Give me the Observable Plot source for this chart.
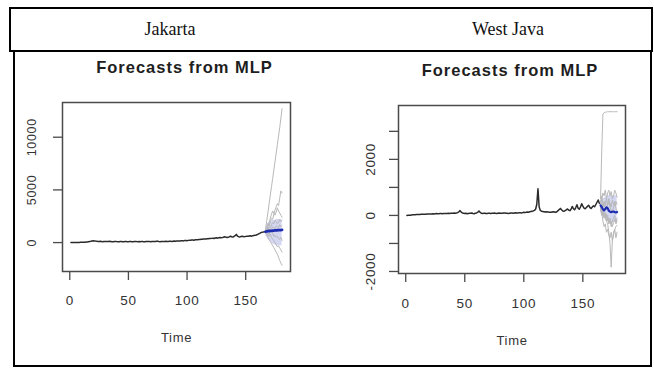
<!DOCTYPE html>
<html>
<head>
<meta charset="utf-8">
<script src="https://cdn.jsdelivr.net/npm/d3@7"></script>
<script src="https://cdn.jsdelivr.net/npm/@observablehq/plot@0.6"></script>
<style>
  body { margin: 0; background: #fff; }
  #page { position: relative; width: 654px; height: 368px; overflow: hidden; background: #fff; }
  .box { position: absolute; box-sizing: border-box; border: 2px solid #000; }
  .head { position: absolute; top: 19px; width: 220px; text-align: center;
          font-family: "Liberation Serif", "Times New Roman", serif; font-size: 18px; color: #111; }
  .chart { position: absolute; top: 53px; }
  .chart svg text { letter-spacing: 0.7px; }
  .chart svg g[font-weight="bold"] text { letter-spacing: 1px; }
</style>
</head>
<body>
<div id="page">
  <div class="box" style="left:9px;top:7px;width:644px;height:45px;"></div>
  <div class="box" style="left:13px;top:50px;width:639px;height:317px;"></div>
  <div class="head" style="left:60px;">Jakarta</div>
  <div class="head" style="left:398px;">West Java</div>
  <div class="chart" id="jakarta" style="left:14px;"></div>
  <div class="chart" id="westjava" style="left:330px;"></div>
</div>
<script>
// ---- Jakarta: observed daily series (t = 1..166) ----
const jakartaHistory = [
  0, 2, 3, 5, 8, 10, 12, 15, 20, 25,
  30, 40, 35, 50, 60, 80, 100, 120, 150, 170,
  160, 140, 130, 110, 100, 120, 110, 90, 100, 105,
  110, 95, 100, 120, 105, 90, 80, 100, 110, 95,
  90, 85, 100, 95, 80, 90, 110, 100, 85, 90,
  100, 95, 80, 90, 100, 110, 95, 85, 100, 90,
  95, 100, 90, 85, 105, 110, 100, 95, 90, 100,
  105, 110, 95, 120, 130, 100, 90, 110, 100, 95,
  110, 120, 100, 110, 130, 120, 110, 125, 140, 130,
  150, 140, 160, 150, 170, 180, 160, 190, 200, 180,
  210, 230, 220, 240, 250, 230, 260, 280, 270, 300,
  290, 320, 310, 330, 350, 340, 370, 360, 390, 380,
  400, 420, 390, 430, 450, 420, 460, 480, 450, 470,
  500, 560, 520, 480, 510, 540, 600, 550, 520, 580,
  650, 780, 620, 560, 540, 580, 600, 570, 560, 590,
  610, 600, 620, 640, 610, 650, 680, 700, 720, 760,
  820, 880, 940, 990, 1000, 1020
];
// MLP combined forecast, 15 steps ahead
const jakartaForecast = [1040, 1060, 1080, 1100, 1110, 1120, 1130, 1140, 1150, 1160, 1170, 1180, 1180, 1190, 1200];
// individual ensemble network forecasts
const jakartaEnsemble = [
  [1300, 2100, 2900, 3700, 4500, 5300, 6100, 6900, 7700, 8500, 9300, 10100, 10900, 11800, 12700],
  [1100, 1400, 1800, 1600, 2000, 2300, 2200, 2700, 3100, 3400, 3700, 3500, 4200, 4900, 4700],
  [900, 700, 500, 300, 100, -100, -300, -500, -700, -900, -1100, -1400, -1700, -1950, -2150],
  [1000, 1200, 1500, 1900, 2300, 2700, 3000, 2800, 2600, 2900, 3300, 3000, 2800, 2600, 2400],
  [1000, 900, 700, 600, 800, 500, 300, 200, 0, -200, -400, -300, -500, -700, -900],
  [1100, 1300, 1200, 1500, 1400, 1700, 1900, 1800, 2100, 2000, 1800, 1900, 2200, 2000, 2100],
  [1000, 1100, 900, 800, 1000, 1200, 900, 600, 700, 500, 600, 400, 300, 500, 200],
  [1100, 1200, 1400, 1300, 1100, 1300, 1500, 1400, 1300, 1600, 1500, 1400, 1700, 1500, 1600]
];
const jakartaBandLow  = [700, 500, 300, 200, 100, 0, -100, -200, -200, -300, -300, -300, -300, -300, -300];
const jakartaBandHigh = [1400, 1600, 1800, 1900, 2000, 2000, 2100, 2100, 2100, 2200, 2200, 2200, 2200, 2200, 2200];
const jakartaXTicks = [0, 50, 100, 150];
const jakartaYTicks = [0, 5000, 10000];
const jakartaYLabels = [0, 5000, 10000];

// ---- West Java: observed daily series (t = 1..164) ----
const westJavaHistory = [
  0, 5, 10, 10, 15, 20, 20, 25, 30, 30,
  30, 35, 40, 40, 45, 40, 45, 50, 50, 55,
  50, 55, 60, 55, 60, 65, 60, 60, 65, 70,
  60, 65, 70, 65, 70, 75, 70, 80, 75, 80,
  85, 80, 90, 100, 130, 170, 120, 90, 80, 70,
  80, 60, 70, 80, 75, 85, 70, 60, 80, 90,
  110, 160, 110, 80, 70, 75, 80, 70, 65, 75,
  80, 70, 75, 80, 85, 75, 70, 80, 85, 80,
  75, 80, 90, 85, 80, 75, 70, 80, 90, 85,
  80, 90, 95, 85, 90, 100, 95, 90, 100, 110,
  105, 110, 120, 115, 130, 140, 150, 160, 180, 220,
  400, 950, 300, 180, 150, 140, 130, 120, 130, 125,
  120, 115, 110, 120, 130, 120, 110, 130, 170, 210,
  250, 200, 160, 150, 170, 200, 230, 190, 170, 220,
  320, 240, 200, 280, 380, 260, 220, 300, 420, 330,
  260, 240, 280, 330, 360, 280, 250, 300, 340, 310,
  390, 470, 550, 430
];
const westJavaForecast = [360, 300, 220, 180, 230, 290, 260, 170, 130, 120, 130, 140, 120, 110, 120];
const westJavaEnsemble = [
  [600, 2300, 3620, 3660, 3680, 3690, 3700, 3700, 3700, 3700, 3700, 3700, 3700, 3700, 3700],
  [250, 150, 100, 0, -100, -200, -300, -600, -1000, -1850, -900, -600, -500, -400, -350],
  [400, 600, 800, 700, 900, 600, 800, 900, 700, 850, 600, 700, 900, 800, 650],
  [300, 100, -200, -400, -300, -600, -500, -700, -800, -600, -900, -700, -500, -800, -600],
  [350, 450, 300, 500, 400, 600, 350, 500, 450, 300, 550, 400, 350, 500, 400],
  [300, 200, 0, 100, -100, 50, -200, -100, -300, -200, -400, -250, -150, -300, -200],
  [500, 700, 400, 300, 500, 200, 400, 600, 300, 200, 100, 300, 500, 250, 150],
  [200, 0, 200, -100, 100, -200, 0, -300, -100, -400, -200, -100, 0, -250, -100]
];
const westJavaBandLow  = [150, 50, -50, -100, -100, -150, -150, -200, -200, -200, -250, -250, -250, -250, -250];
const westJavaBandHigh = [500, 550, 600, 600, 650, 650, 700, 700, 700, 700, 700, 700, 700, 700, 700];
const westJavaXTicks = [0, 50, 100, 150];
const westJavaYTicks = [-2000, -1000, 0, 1000, 2000, 3000];
const westJavaYLabels = [-2000, 0, 2000];

const titleText = "Forecasts from MLP";
const xTitle = "Time";

// R-style axis range: data extent widened by 4% on each side
function padded(values) {
  const [lo, hi] = d3.extent(values);
  const d = (hi - lo) * 0.04;
  return [lo - d, hi + d];
}

function forecastPlot(cfg) {
  const n = cfg.history.length;
  const hist = cfg.history.map((v, i) => ({t: i + 1, v}));
  const fc = cfg.forecast.map((v, i) => ({t: n + 1 + i, v}));
  const ens = cfg.ensemble.flatMap((s, k) => s.map((v, i) => ({t: n + 1 + i, v, k})));
  const band = cfg.bandLow.map((lo, i) => ({t: n + 1 + i, lo, hi: cfg.bandHigh[i]}));

  const allT = hist.map(d => d.t).concat(fc.map(d => d.t));
  const allV = hist.map(d => d.v).concat(fc.map(d => d.v), ens.map(d => d.v), band.map(d => d.lo), band.map(d => d.hi));

  const font = "'Liberation Sans', Arial, Helvetica, sans-serif";
  return Plot.plot({
    width: cfg.width,
    height: 312,
    marginLeft: cfg.ml, marginRight: cfg.mr, marginTop: cfg.mt, marginBottom: cfg.mb,
    x: {domain: padded(allT), axis: null, label: null},
    y: {domain: padded(allV), axis: null, label: null},
    style: {fontFamily: font, background: "transparent", overflow: "visible"},
    marks: [
      Plot.areaY(band, {x: "t", y1: "lo", y2: "hi", fill: "#c6c9ee", fillOpacity: 0.75}),
      Plot.lineY(ens, {x: "t", y: "v", z: "k", stroke: "#b8b8b8", strokeWidth: 1}),
      Plot.lineY(hist, {x: "t", y: "v", stroke: "#2a2a2a", strokeWidth: 1.5}),
      Plot.lineY(fc, {x: "t", y: "v", stroke: "#1e2cb0", strokeWidth: cfg.fcWidth}),
      Plot.frame({stroke: "#4a4a4a", strokeWidth: 1.5}),
      Plot.axisX(cfg.xTicks, {anchor: "bottom", tickSize: 9, stroke: "#4a4a4a", strokeWidth: 1.3,
        tickFormat: () => "", label: null}),
      Plot.axisY(cfg.yTicks, {anchor: "left", tickSize: 9, stroke: "#4a4a4a", strokeWidth: 1.3,
        tickFormat: () => "", label: null}),
      Plot.text(cfg.xTicks, {x: d => d, text: d => String(d), frameAnchor: "bottom", dy: cfg.xLabelDy,
        lineAnchor: "middle", fontSize: 13.5, fill: "#333"}),
      Plot.text(cfg.yLabels, {y: d => d, text: d => String(d), frameAnchor: "left", dx: cfg.yLabelDx,
        rotate: -90, textAnchor: "middle", lineAnchor: "middle", fontSize: cfg.yFont, fill: "#333"}),
      Plot.text([xTitle], {frameAnchor: "bottom", dy: cfg.xTitleDy, lineAnchor: "middle", fontSize: 13, fill: "#333"}),
      Plot.text([titleText], {frameAnchor: "top", dx: cfg.titleDx, dy: -35, lineAnchor: "middle",
        fontSize: 16.5, fontWeight: "bold", fill: "#1e1e1e"})
    ]
  });
}

document.getElementById("jakarta").append(forecastPlot({
  history: jakartaHistory, forecast: jakartaForecast, ensemble: jakartaEnsemble,
  bandLow: jakartaBandLow, bandHigh: jakartaBandHigh,
  xTicks: jakartaXTicks, yTicks: jakartaYTicks, yLabels: jakartaYLabels,
  width: 312, ml: 48, mr: 36, mt: 49, mb: 94,
  xLabelDy: 29, xTitleDy: 66, yLabelDx: -31, yFont: 12.5, titleDx: 8, fcWidth: 2.8
}));

document.getElementById("westjava").append(forecastPlot({
  history: westJavaHistory, forecast: westJavaForecast, ensemble: westJavaEnsemble,
  bandLow: westJavaBandLow, bandHigh: westJavaBandHigh,
  xTicks: westJavaXTicks, yTicks: westJavaYTicks, yLabels: westJavaYLabels,
  width: 320, ml: 68, mr: 25, mt: 52, mb: 92,
  xLabelDy: 30, xTitleDy: 67, yLabelDx: -28, yFont: 13.5, titleDx: -2, fcWidth: 2.2
}));
</script>
</body>
</html>
